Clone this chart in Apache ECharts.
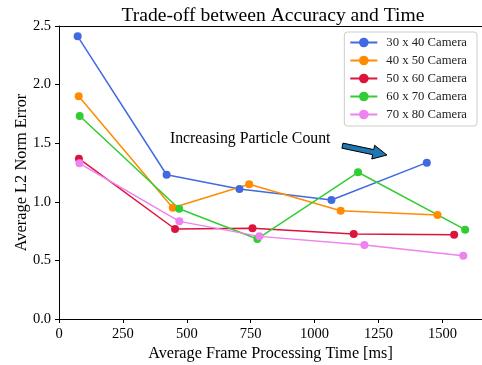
<!DOCTYPE html>
<html><head><meta charset="utf-8">
<script src="https://cdn.jsdelivr.net/npm/echarts@6/dist/echarts.min.js"></script>
<style>html,body{margin:0;padding:0;background:#fff}#c{width:482px;height:365px}</style>
</head><body><div id="c"></div>
<script>
const seriesNames = ['30 x 40 Camera','40 x 50 Camera','50 x 60 Camera','60 x 70 Camera','70 x 80 Camera'];
const colors = ['#4169E1','#FF8C00','#DC143C','#32CD32','#EE82EE'];
const time30x40 = [73, 421, 706, 1066, 1439];
const err30x40  = [2.412, 1.231, 1.109, 1.015, 1.334];
const time40x50 = [77, 445, 744, 1102, 1481];
const err40x50  = [1.90, 0.950, 1.149, 0.924, 0.887];
const time50x60 = [78, 454, 757, 1153, 1546];
const err50x60  = [1.368, 0.768, 0.774, 0.725, 0.719];
const time60x70 = [81, 470, 776, 1170, 1589];
const err60x70  = [1.732, 0.941, 0.683, 1.252, 0.762];
const time70x80 = [80, 471, 784, 1195, 1582];
const err70x80  = [1.328, 0.833, 0.705, 0.631, 0.540];
const xTicks = [0, 250, 500, 750, 1000, 1250, 1500];
const yTicks = [0.0, 0.5, 1.0, 1.5, 2.0, 2.5];
const annotationText = 'Increasing Particle Count';
const annotationPos = [434, 1.536];
const arrowTail = [1109, 1.479];
const arrowTip = [1283, 1.399];

const times = [time30x40, time40x50, time50x60, time60x70, time70x80];
const errs = [err30x40, err40x50, err50x60, err60x70, err70x80];
const FONT = '"Liberation Serif", "DejaVu Serif", serif';

const chart = echarts.init(document.getElementById('c'));
const axisCommon = {
  axisLine: {show: true, lineStyle: {color: '#000', width: 1}},
  axisTick: {show: true, inside: false, length: 4, lineStyle: {color: '#000'}},
  splitLine: {show: false},
  axisLabel: {color: '#000', fontFamily: FONT, fontSize: 14.5}
};
chart.setOption({
  animation: false,
  backgroundColor: '#fff',
  title: {text: 'Trade-off between Accuracy and Time', left: 268, top: 1, textAlign: 'center',
    textStyle: {fontFamily: FONT, fontSize: 19.6, fontWeight: 'normal', color: '#000'}},
  grid: {left: 59, top: 26, right: 0, bottom: 46, containLabel: false, outerBoundsMode: 'none'},
  legend: {
    orient: 'vertical', right: 5, top: 32,
    data: seriesNames,
    backgroundColor: '#fff', borderColor: '#ccc', borderWidth: 1, borderRadius: 3,
    padding: [4, 10, 5, 5], itemWidth: 27, itemHeight: 12, itemGap: 5,
    textStyle: {fontFamily: FONT, fontSize: 12.7, color: '#222', padding: [0,0,0,4]}
  },
  xAxis: [Object.assign({}, axisCommon, {
    type: 'value', min: 0, max: 1655, interval: 250,
    name: 'Average Frame Processing Time [ms]', nameLocation: 'middle', nameGap: 27, nameMoveOverlap: false,
    nameTextStyle: {fontFamily: FONT, fontSize: 16.2, color: '#000'},
    axisLabel: Object.assign({}, axisCommon.axisLabel, {showMaxLabel: false,
      formatter: v => xTicks.includes(v) ? String(v) : ''})
  }), {
    type: 'value', position: 'top', min: 0, max: 1655,
    axisLine: {show: true, lineStyle: {color: '#000', width: 1}},
    axisTick: {show: false}, axisLabel: {show: false}, splitLine: {show: false}
  }],
  yAxis: Object.assign({}, axisCommon, {
    type: 'value', min: 0, max: 2.5, interval: 0.5,
    name: 'Average L2 Norm Error', nameLocation: 'middle', nameGap: 29, nameMoveOverlap: false,
    nameTextStyle: {fontFamily: FONT, fontSize: 16.4, color: '#000'},
    axisLabel: Object.assign({}, axisCommon.axisLabel, {formatter: v => v.toFixed(1)})
  }),
  series: seriesNames.map((n, i) => ({
    name: n, type: 'line', xAxisIndex: 0,
    data: times[i].map((t, j) => [t, errs[i][j]]),
    color: colors[i], symbol: 'circle', symbolSize: 8,
    lineStyle: {width: 1.5, color: colors[i]},
    itemStyle: {color: colors[i]}
  }))
});

function px(p){ return chart.convertToPixel({xAxisIndex:0, yAxisIndex:0}, p); }
const t = px(arrowTail), h = px(arrowTip);
const dx = h[0]-t[0], dy = h[1]-t[1], L = Math.hypot(dx, dy);
const ux = dx/L, uy = dy/L, nx = -uy, ny = ux;
const headLen = 14, sw = 2.6, hw = 7;
const b = [h[0]-ux*headLen, h[1]-uy*headLen];
const pts = [
  [t[0]+nx*sw, t[1]+ny*sw], [b[0]+nx*sw, b[1]+ny*sw], [b[0]+nx*hw, b[1]+ny*hw], h,
  [b[0]-nx*hw, b[1]-ny*hw], [b[0]-nx*sw, b[1]-ny*sw], [t[0]-nx*sw, t[1]-ny*sw]
];
const a = px(annotationPos);
chart.setOption({graphic: [
  {type: 'polygon', shape: {points: pts}, style: {fill: '#1f77b4', stroke: '#000', lineWidth: 1}, z: 100},
  {type: 'text', x: a[0], y: a[1], style: {text: annotationText, fontFamily: FONT, fontSize: 15.8, fill: '#000', verticalAlign: 'middle'}, z: 100}
]});
</script></body></html>
